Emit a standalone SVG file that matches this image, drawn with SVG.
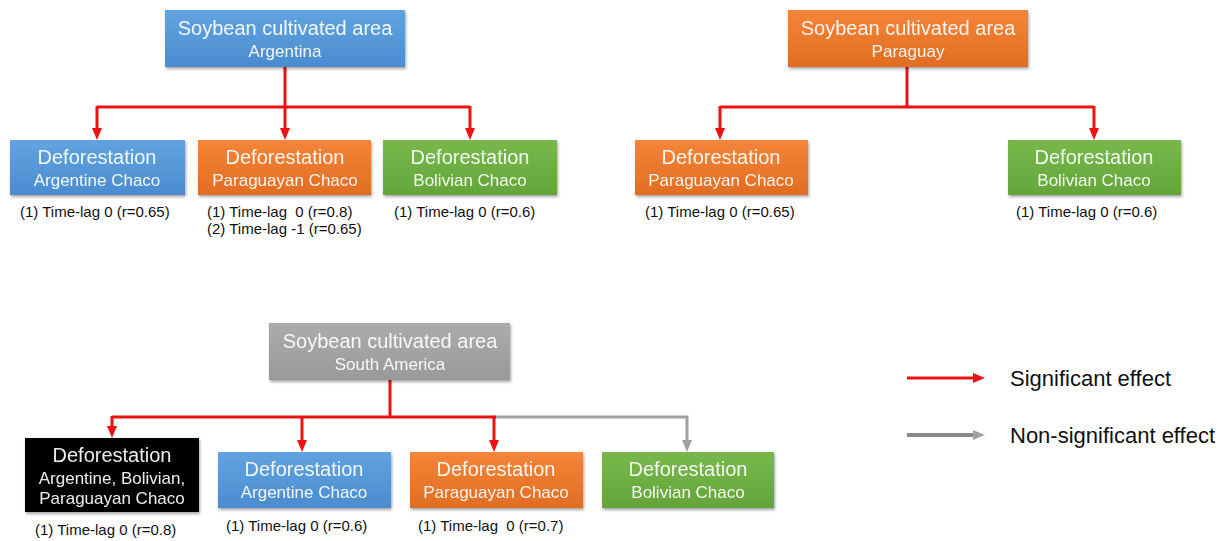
<svg xmlns="http://www.w3.org/2000/svg" width="1225" height="541" viewBox="0 0 1225 541">
<defs>
<linearGradient id="gBlue" x1="0" y1="0" x2="0" y2="1"><stop offset="0" stop-color="#62a3e0"/><stop offset="1" stop-color="#4a8ccf"/></linearGradient>
<linearGradient id="gOrange" x1="0" y1="0" x2="0" y2="1"><stop offset="0" stop-color="#f5853a"/><stop offset="1" stop-color="#e06d22"/></linearGradient>
<linearGradient id="gGreen" x1="0" y1="0" x2="0" y2="1"><stop offset="0" stop-color="#78b84c"/><stop offset="1" stop-color="#64a53a"/></linearGradient>
<linearGradient id="gGray" x1="0" y1="0" x2="0" y2="1"><stop offset="0" stop-color="#acacac"/><stop offset="1" stop-color="#999999"/></linearGradient>
<filter id="sh" x="-10%" y="-10%" width="120%" height="130%"><feDropShadow dx="1" dy="2" stdDeviation="1.5" flood-color="#000" flood-opacity="0.35"/></filter>
<marker id="ar" markerWidth="12" markerHeight="10" refX="0" refY="5" orient="auto" markerUnits="userSpaceOnUse"><path d="M0,0 L12,5 L0,10 Z" fill="#ee1111"/></marker>
<marker id="ag" markerWidth="12" markerHeight="10" refX="0" refY="5" orient="auto" markerUnits="userSpaceOnUse"><path d="M0,0 L12,5 L0,10 Z" fill="#a0a0a0"/></marker>
<style>
.t{font-family:"Liberation Sans",Arial,sans-serif;fill:#fff;fill-opacity:0.92;text-anchor:middle}
.h{font-size:20px}
.s{font-size:17px}
.lab{font-family:"Liberation Sans",Arial,sans-serif;font-size:15px;fill:#111}
.leg{font-family:"Liberation Sans",Arial,sans-serif;font-size:22px;fill:#111}
.red{stroke:#ee1111;stroke-width:3;fill:none}
.gry{stroke:#a0a0a0;stroke-width:3;fill:none}
</style>
</defs>
<rect width="1225" height="541" fill="#fff"/>

<g id="connectors">
<path class="red" d="M285,67 V107"/>
<path class="red" d="M97,107 H470"/>
<path class="red" d="M97,106 V128" marker-end="url(#ar)"/>
<path class="red" d="M285,106 V128" marker-end="url(#ar)"/>
<path class="red" d="M470,106 V128" marker-end="url(#ar)"/>
<path class="red" d="M907,67 V107"/>
<path class="red" d="M720,107 H1094"/>
<path class="red" d="M720,106 V128" marker-end="url(#ar)"/>
<path class="red" d="M1094,106 V128" marker-end="url(#ar)"/>
<path class="red" d="M390,380 V417"/>
<path class="gry" d="M494,417 H687 V440" marker-end="url(#ag)"/>
<path class="red" d="M112,417 H496"/>
<path class="red" d="M112,416 V426" marker-end="url(#ar)"/>
<path class="red" d="M302,416 V440" marker-end="url(#ar)"/>
<path class="red" d="M494,416 V440" marker-end="url(#ar)"/>
</g>

<g id="n-arg-top" filter="url(#sh)"><rect x="165" y="10" width="240" height="57" fill="url(#gBlue)"/><text class="t h" x="285" y="35">Soybean cultivated area</text><text class="t s" x="285" y="57">Argentina</text></g>
<g id="n-arg-ac" filter="url(#sh)"><rect x="10" y="140" width="175" height="55" fill="url(#gBlue)"/><text class="t h" x="97" y="164">Deforestation</text><text class="t s" x="97" y="186">Argentine Chaco</text></g>
<g id="n-arg-pc" filter="url(#sh)"><rect x="198" y="140" width="173" height="55" fill="url(#gOrange)"/><text class="t h" x="285" y="164">Deforestation</text><text class="t s" x="285" y="186">Paraguayan Chaco</text></g>
<g id="n-arg-bc" filter="url(#sh)"><rect x="383" y="140" width="174" height="55" fill="url(#gGreen)"/><text class="t h" x="470" y="164">Deforestation</text><text class="t s" x="470" y="186">Bolivian Chaco</text></g>
<g id="l-arg"><text class="lab" x="20" y="217">(1) Time-lag 0 (r=0.65)</text><text class="lab" x="207" y="217" xml:space="preserve">(1) Time-lag  0 (r=0.8)</text><text class="lab" x="207" y="234">(2) Time-lag -1 (r=0.65)</text><text class="lab" x="394" y="217">(1) Time-lag 0 (r=0.6)</text></g>

<g id="n-par-top" filter="url(#sh)"><rect x="788" y="10" width="240" height="57" fill="url(#gOrange)"/><text class="t h" x="908" y="35">Soybean cultivated area</text><text class="t s" x="908" y="57">Paraguay</text></g>
<g id="n-par-pc" filter="url(#sh)"><rect x="635" y="140" width="173" height="55" fill="url(#gOrange)"/><text class="t h" x="721" y="164">Deforestation</text><text class="t s" x="721" y="186">Paraguayan Chaco</text></g>
<g id="n-par-bc" filter="url(#sh)"><rect x="1008" y="140" width="173" height="55" fill="url(#gGreen)"/><text class="t h" x="1094" y="164">Deforestation</text><text class="t s" x="1094" y="186">Bolivian Chaco</text></g>
<g id="l-par"><text class="lab" x="645" y="217">(1) Time-lag 0 (r=0.65)</text><text class="lab" x="1016" y="217">(1) Time-lag 0 (r=0.6)</text></g>

<g id="n-sa-top" filter="url(#sh)"><rect x="269" y="323" width="241" height="57" fill="url(#gGray)"/><text class="t h" x="390" y="348">Soybean cultivated area</text><text class="t s" x="390" y="370">South America</text></g>
<g id="n-sa-all" filter="url(#sh)"><rect x="25" y="438" width="174" height="74" fill="#050505"/><text class="t h" x="112" y="462">Deforestation</text><text class="t s" x="112" y="484">Argentine, Bolivian,</text><text class="t s" x="112" y="504">Paraguayan Chaco</text></g>
<g id="n-sa-ac" filter="url(#sh)"><rect x="218" y="452" width="173" height="56" fill="url(#gBlue)"/><text class="t h" x="304" y="476">Deforestation</text><text class="t s" x="304" y="498">Argentine Chaco</text></g>
<g id="n-sa-pc" filter="url(#sh)"><rect x="410" y="452" width="173" height="56" fill="url(#gOrange)"/><text class="t h" x="496" y="476">Deforestation</text><text class="t s" x="496" y="498">Paraguayan Chaco</text></g>
<g id="n-sa-bc" filter="url(#sh)"><rect x="602" y="452" width="172" height="56" fill="url(#gGreen)"/><text class="t h" x="688" y="476">Deforestation</text><text class="t s" x="688" y="498">Bolivian Chaco</text></g>
<g id="l-sa"><text class="lab" x="35" y="535">(1) Time-lag 0 (r=0.8)</text><text class="lab" x="226" y="531">(1) Time-lag 0 (r=0.6)</text><text class="lab" x="418" y="531" xml:space="preserve">(1) Time-lag  0 (r=0.7)</text></g>

<g id="legend">
<path class="red" d="M907,378 H973" marker-end="url(#ar)"/>
<text class="leg" x="1010" y="386">Significant effect</text>
<path d="M907,435 H973" stroke="#888" stroke-width="4" fill="none" marker-end="url(#ag)"/>
<text class="leg" x="1010" y="443">Non-significant effect</text>
</g>
</svg>
